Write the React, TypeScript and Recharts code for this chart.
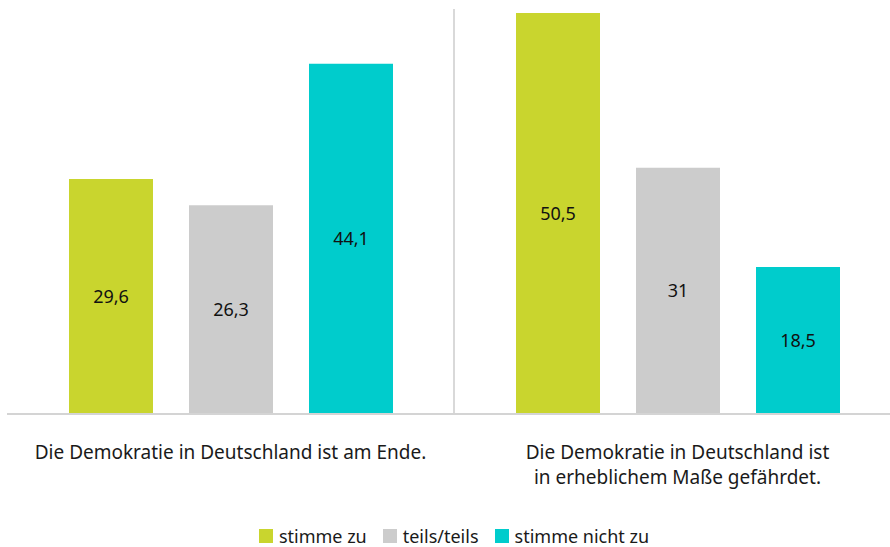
import { BarChart, Bar, XAxis, YAxis, CartesianGrid, Legend, LabelList } from 'recharts';

const categories = [
  'Die Demokratie in Deutschland ist am Ende.',
  'Die Demokratie in Deutschland ist\nin erheblichem Maße gefährdet.',
];
const stimmeZu = [29.6, 50.5];
const teilsTeils = [26.3, 31];
const stimmeNichtZu = [44.1, 18.5];

const seriesNames = ['stimme zu', 'teils/teils', 'stimme nicht zu'];
const colors = ['#c9d52e', '#cccccc', '#00cccc'];

const data = categories.map((name, i) => ({
  name,
  zu: stimmeZu[i],
  teils: teilsTeils[i],
  nicht: stimmeNichtZu[i],
}));

const FONT = '"Noto Sans", sans-serif';

const fmt = (v: any) => String(v).replace('.', ',');

function CategoryTick(props: any) {
  const { x, y, payload } = props;
  const lines = String(payload.value).split('\n');
  return (
    <text x={x} y={y} textAnchor="middle" fill="#1a1a1a" fontSize={19} fontFamily={FONT}>
      {lines.map((line: string, i: number) => (
        <tspan key={i} x={x} dy={i === 0 ? 37 : 25}>
          {line}
        </tspan>
      ))}
    </text>
  );
}

function LegendContent() {
  return (
    <div
      style={{
        display: 'flex',
        justifyContent: 'center',
        alignItems: 'center',
        gap: 16,
        fontFamily: FONT,
        fontSize: 18,
        lineHeight: '20px',
        color: '#1a1a1a',
        paddingTop: 5,
      }}
    >
      {seriesNames.map((n, i) => (
        <span key={n} style={{ display: 'flex', alignItems: 'center', gap: 6 }}>
          <span style={{ width: 14, height: 14, background: colors[i], display: 'inline-block' }} />
          {n}
        </span>
      ))}
    </div>
  );
}

export default function App() {
  return (
    <div style={{ position: 'absolute', left: 0, top: 0, width: 890, height: 547, overflow: 'hidden', background: '#fff' }}>
      <BarChart
        width={901}
        height={547}
        data={data}
        margin={{ top: 9, right: 0, left: 7, bottom: 0 }}
        barSize={84}
        barGap={36}
      >
        <CartesianGrid
          horizontal={false}
          vertical
          stroke="#d9d9d9"
          strokeWidth={2}
          verticalCoordinatesGenerator={({ offset }: any) => [offset.left + offset.width / 2]}
        />
        <YAxis
          width={0}
          domain={[0, 51]}
          tick={false}
          tickLine={false}
          axisLine={{ stroke: '#d9d9d9', strokeWidth: 2 }}
        />
        <XAxis
          dataKey="name"
          height={107}
          interval={0}
          tickLine={false}
          axisLine={{ stroke: '#d4d4d4', strokeWidth: 2 }}
          tick={<CategoryTick />}
        />
        <Legend
          verticalAlign="bottom"
          height={26}
          content={<LegendContent />}
        />
        <Bar dataKey="zu" name={seriesNames[0]} fill={colors[0]} isAnimationActive={false}>
          <LabelList dataKey="zu" position="center" formatter={fmt} fill="#111" fontSize={18} fontFamily={FONT} />
        </Bar>
        <Bar dataKey="teils" name={seriesNames[1]} fill={colors[1]} isAnimationActive={false}>
          <LabelList dataKey="teils" position="center" formatter={fmt} fill="#111" fontSize={18} fontFamily={FONT} />
        </Bar>
        <Bar dataKey="nicht" name={seriesNames[2]} fill={colors[2]} isAnimationActive={false}>
          <LabelList dataKey="nicht" position="center" formatter={fmt} fill="#111" fontSize={18} fontFamily={FONT} />
        </Bar>
      </BarChart>
    </div>
  );
}
